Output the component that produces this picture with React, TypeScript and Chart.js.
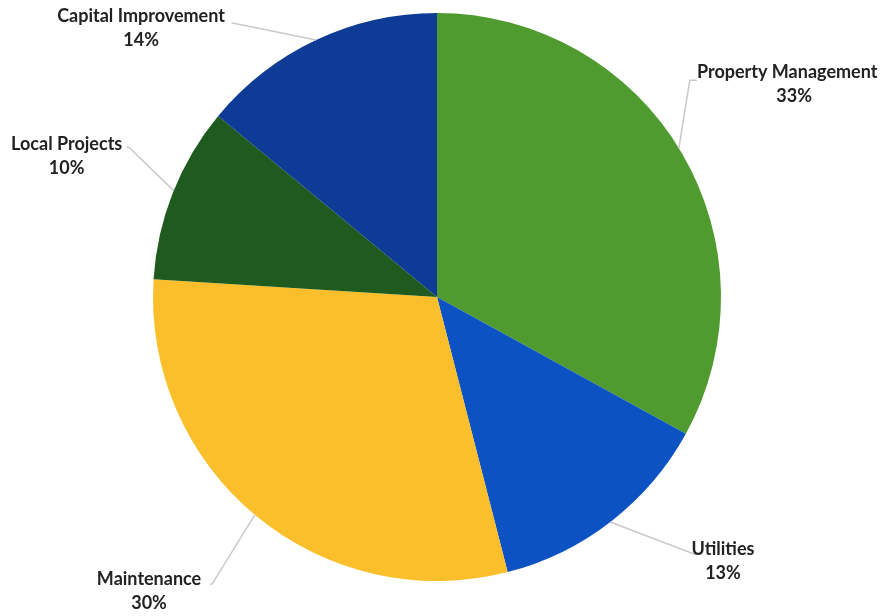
import React, { useEffect, useRef } from "react";
import { Chart, registerables } from "chart.js";

Chart.register(...registerables);

const categories = ["Property Management", "Utilities", "Maintenance", "Local Projects", "Capital Improvement"];
const shares = [33, 13, 30, 10, 14];
const percentLabels = ["33%", "13%", "30%", "10%", "14%"];
const colors = ["#4f9b2f", "#0c52c2", "#fbbf2b", "#1f5a1e", "#0e3b96"];

// label layout relative to pie centre, in radius units; edge = leader attach angle (deg from top, clockwise)
const labelLayout = [
  { tx: 1.233, ty: -0.792, ox: 0.915, oy: -0.763, ex: 0.89, ey: -0.763, edge: 58.4 },
  { tx: 1.007, ty: 0.887, ox: 0.929, oy: 0.905, ex: 0.905, ey: 0.905, edge: 142.4 },
  { tx: -1.014, ty: 0.993, ox: -0.799, oy: 1.011, ex: -0.792, ey: 1.011, edge: 219.9 },
  { tx: -1.304, ty: -0.537, ox: -1.092, oy: -0.527, ex: -1.085, ey: -0.527, edge: 292 },
  { tx: -1.042, ty: -0.989, ox: -0.724, oy: -0.965, ex: -0.72, ey: -0.965, edge: 334.8 },
];

const labelPlugin = {
  id: "outerLabels",
  afterDatasetsDraw(chart: any) {
    const meta = chart.getDatasetMeta(0);
    const arc = meta.data[0];
    if (!arc) return;
    const cx = arc.x, cy = arc.y, R = arc.outerRadius;
    const ctx = chart.ctx;
    ctx.save();
    labelLayout.forEach((l, i) => {
      const a = (l.edge * Math.PI) / 180;
      const px = cx + R * Math.sin(a);
      const py = cy - R * Math.cos(a);
      ctx.strokeStyle = "#c9c9c9";
      ctx.lineWidth = 1.5;
      ctx.beginPath();
      ctx.moveTo(cx + l.ox * R, cy + l.oy * R);
      ctx.lineTo(cx + l.ex * R, cy + l.ey * R);
      ctx.lineTo(px, py);
      ctx.stroke();
      ctx.fillStyle = "#222222";
      ctx.font = "bold 18px Lato, 'Open Sans', sans-serif";
      ctx.textAlign = "center";
      ctx.textBaseline = "middle";
      const x = cx + l.tx * R;
      const y = cy + l.ty * R;
      ctx.fillText(categories[i], x, y);
      ctx.fillText(percentLabels[i], x + (i === 0 ? 7 : 0), y + 24);
    });
    ctx.restore();
  },
};

export default function App() {
  const ref = useRef<HTMLCanvasElement>(null);
  useEffect(() => {
    if (!ref.current) return;
    const chart = new Chart(ref.current, {
      type: "pie",
      data: {
        labels: categories,
        datasets: [{ data: shares, backgroundColor: colors, borderWidth: 0 }],
      },
      options: {
        animation: false,
        responsive: false,
        maintainAspectRatio: false,
        layout: { padding: { left: 153, right: 172, top: 13, bottom: 35 } },
        plugins: { legend: { display: false }, tooltip: { enabled: false } },
      },
      plugins: [labelPlugin],
    });
    return () => chart.destroy();
  }, []);
  return (
    <div style={{ position: "fixed", left: 0, top: 0, width: 893, height: 616, background: "#fff" }}>
      <canvas ref={ref} width={893} height={616} style={{ width: 893, height: 616 }} />
    </div>
  );
}
